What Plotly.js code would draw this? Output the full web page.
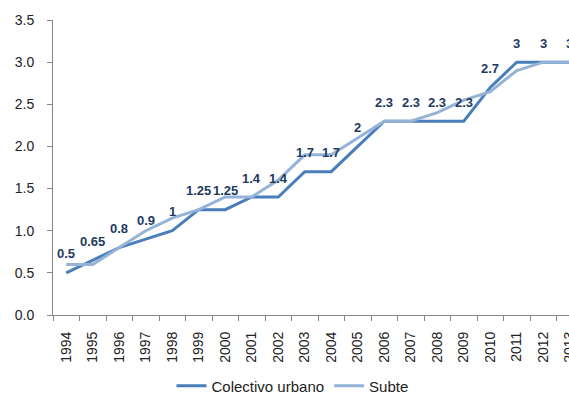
<!DOCTYPE html>
<html>
<head>
<meta charset="utf-8">
<script src="https://cdn.plot.ly/plotly-3.0.1.min.js"></script>
<style>
html,body{margin:0;padding:0;overflow:hidden;background:#fff;}
#wrap{width:569px;height:396px;overflow:hidden;}
</style>
</head>
<body>
<div id="wrap"><div id="chart"></div></div>
<script>
var years = ['1994','1995','1996','1997','1998','1999','2000','2001','2002','2003','2004','2005','2006','2007','2008','2009','2010','2011','2012','2013'];
var colectivo = [0.5,0.65,0.8,0.9,1,1.25,1.25,1.4,1.4,1.7,1.7,2,2.3,2.3,2.3,2.3,2.7,3,3,3];
var subte = [0.6,0.6,0.8,1.0,1.15,1.25,1.4,1.4,1.6,1.9,1.9,2.1,2.3,2.3,2.4,2.55,2.65,2.9,3,3];
var colectivoLabels = colectivo.map(function(v){return String(v);});

var font = 'Liberation Sans, Arial, sans-serif';

var traces = [
  {x: years, y: colectivo, name: 'Colectivo urbano', type: 'scatter', mode: 'lines',
   line: {color: '#4a7ebb', width: 3}},
  {x: years, y: subte, name: 'Subte', type: 'scatter', mode: 'lines',
   line: {color: '#95b3d7', width: 3}}
];

var annotations = years.map(function(yr, i){
  return {x: i, y: colectivo[i], text: '<b>' + colectivoLabels[i] + '</b>', showarrow: false,
          yshift: 19, font: {family: font, size: 13, color: '#1f3a60'},
          xref: 'x', yref: 'y'};
});

var layout = {
  width: 600, height: 396,
  margin: {l: 53, r: 17, t: 20, b: 81},
  paper_bgcolor: '#fff', plot_bgcolor: '#fff',
  showlegend: true,
  legend: {orientation: 'h', xref: 'container', yref: 'container', x: 0.4875, xanchor: 'center',
           y: 0.025, yanchor: 'middle',
           font: {family: font, size: 15, color: '#222'}, traceorder: 'normal'},
  xaxis: {type: 'category', range: [-0.5, 19.5], showgrid: false, zeroline: false,
          automargin: false,
          showline: true, linecolor: '#868686', linewidth: 1,
          ticks: 'outside', tickson: 'boundaries', ticklen: 5, tickcolor: '#868686',
          ticklabelstandoff: 10,
          tickangle: -90, tickfont: {family: font, size: 14, color: '#222'}},
  yaxis: {range: [0, 3.5], dtick: 0.5, tickformat: '.1f', showgrid: false, zeroline: false,
          automargin: false,
          showline: true, linecolor: '#868686', linewidth: 1,
          ticks: 'outside', ticklen: 5, tickcolor: '#868686', ticklabelstandoff: 10,
          tickfont: {family: font, size: 14, color: '#222'}},
  annotations: annotations
};

Plotly.newPlot('chart', traces, layout, {displayModeBar: false, staticPlot: true});
</script>
</body>
</html>
